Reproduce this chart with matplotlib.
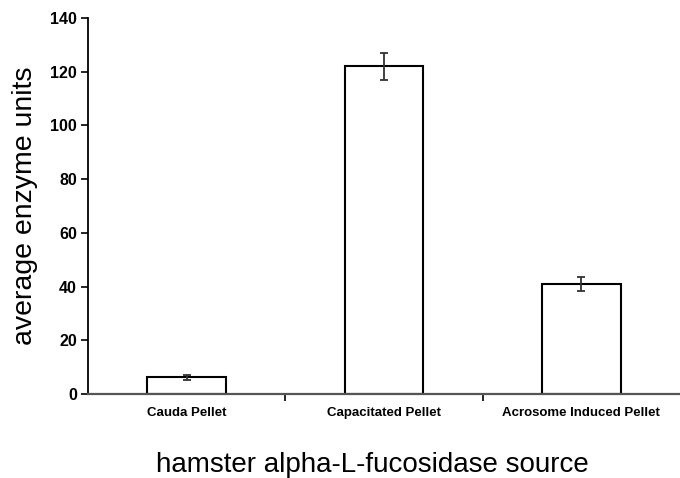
import numpy as np
import matplotlib
matplotlib.use('Agg')
from matplotlib import pyplot as plt

categories = ['Cauda Pellet', 'Capacitated Pellet', 'Acrosome Induced Pellet']
values = [6.3, 122.0, 41.0]
errors = [0.9, 5.0, 2.5]

plt.rcParams['font.family'] = ['Liberation Sans', 'DejaVu Sans']

fig = plt.figure(figsize=(6.8, 4.78), dpi=100)
ax = fig.add_axes([0.1294, 0.1757, 0.8706, 0.7866])

x = np.arange(len(categories))
ax.bar(x, values, width=0.4, color='white', edgecolor='black', linewidth=1.5, zorder=2)
ax.errorbar(x, values, yerr=errors, fmt='none', ecolor='#333333',
            elinewidth=1.3, capsize=3, capthick=1.3, zorder=3)

ax.set_xlim(-0.5, 2.5)
ax.set_ylim(0, 140)
ax.set_yticks(np.arange(0, 141, 20))
ax.set_xticks([0.5, 1.5], minor=False)
ax.set_xticklabels(['', ''])
ax.set_xticks(x, minor=True)
ax.set_xticklabels(categories, minor=True, fontsize=9.5, fontweight='bold')
ax.tick_params(axis='x', which='minor', length=0, pad=9)
ax.tick_params(axis='x', which='major', length=5, width=1.2, direction='out')
ax.tick_params(axis='y', length=5, width=1.2, labelsize=11.5, pad=3)
for lab in ax.get_yticklabels():
    lab.set_fontweight('bold')

for s in ['top', 'right']:
    ax.spines[s].set_visible(False)
ax.spines['left'].set_linewidth(1.3)
ax.spines['bottom'].set_linewidth(1.6)
ax.spines['bottom'].set_color('#555555')

ax.set_ylabel('average enzyme units', fontsize=20.5, labelpad=9)
ax.set_xlabel('hamster alpha-L-fucosidase source', fontsize=20)
ax.xaxis.set_label_coords(0.481, -0.155)
ax.xaxis.label.set_va('top')

fig.savefig('out.png', dpi=100)
